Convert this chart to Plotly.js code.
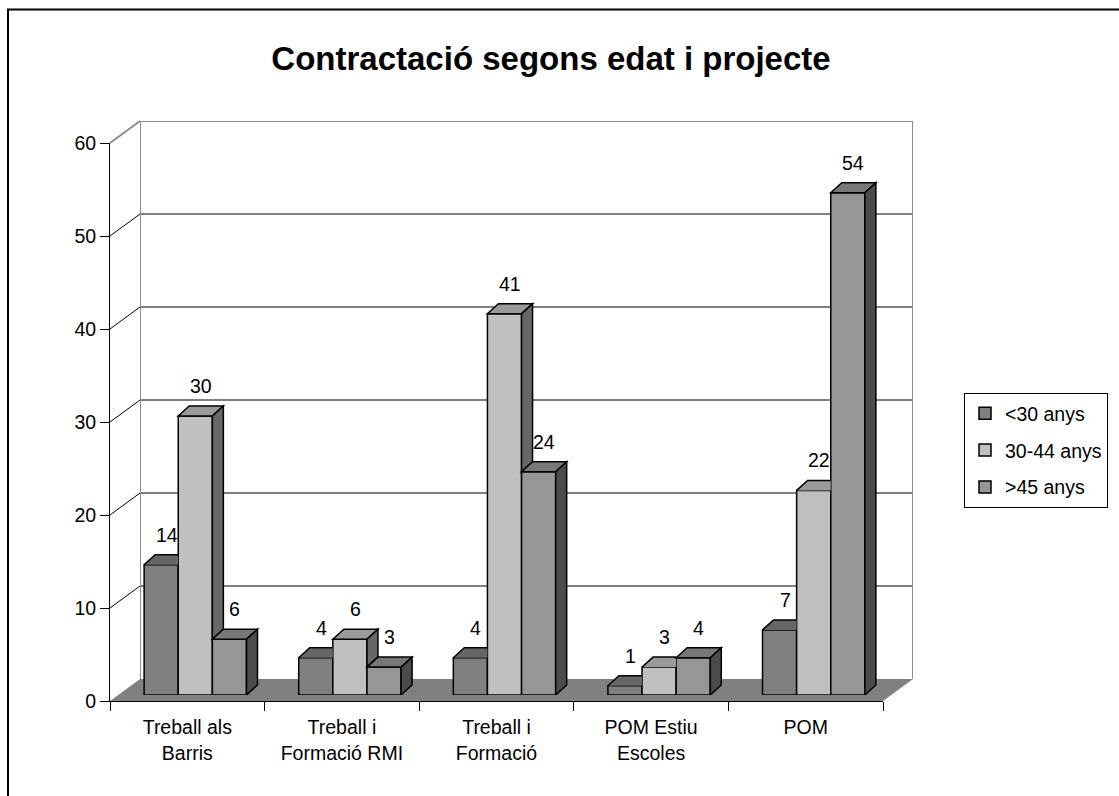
<!DOCTYPE html>
<html>
<head>
<meta charset="utf-8">
<script src="https://cdn.plot.ly/plotly-3.0.1.min.js"></script>
<style>html,body{margin:0;padding:0;background:#fff;}#chart{width:1119px;height:796px;}</style>
</head>
<body>
<div id="chart"></div>
<script>
// ---- data ----
const categories = ['Treball als Barris', 'Treball i Formació RMI', 'Treball i Formació', 'POM Estiu Escoles', 'POM'];
const tickLabels = ['Treball als<br>Barris', 'Treball i<br>Formació RMI', 'Treball i<br>Formació', 'POM Estiu<br>Escoles', 'POM'];
const seriesNames = ['<30 anys', '30-44 anys', '>45 anys'];
const under30 = [14, 4, 4, 1, 7];
const from30to44 = [30, 6, 41, 3, 22];
const over45 = [6, 3, 24, 4, 54];
const yTicks = [0, 10, 20, 30, 40, 50, 60];

// ---- styling ----
const seriesValues = [under30, from30to44, over45];
const frontColors = ['#808080', '#c0c0c0', '#969696'];
const topColors = ['#666666', '#9a9a9a', '#787878'];
const sideColors = ['#404040', '#676767', '#4b4b4b'];
const FONT = 'Liberation Sans, Arial, sans-serif';

const W = 1119, H = 796;
const fx = px => px / W;
const fy = py => 1 - py / H;

// geometry (pixels)
const front = {x0: 110, x1: 883, y0: 701, y1: 143};   // front axis plane
const wall = {x0: 140, x1: 913, y0: 679, y1: 121};    // back wall plane
const barPlane = {x0: 118, x1: 891, y0: 695, y1: 137}; // bar front faces
const YMAX = 60;
const nCat = categories.length;
const BW = 0.2207;              // bar width in category units
const depthPx = {dx: 11, dy: 10};
const pxPerX = (barPlane.x1 - barPlane.x0) / nCat;
const pxPerY = (barPlane.y0 - barPlane.y1) / YMAX;
const DX = depthPx.dx / pxPerX;
const DY = depthPx.dy / pxPerY;

const xIdx = categories.map((c, i) => i);

const traces = [];
// dummy trace to hold the front axes
traces.push({type: 'scatter', x: xIdx, y: xIdx.map(() => null), xaxis: 'x2', yaxis: 'y2',
  showlegend: false, hoverinfo: 'skip', mode: 'markers'});

seriesValues.forEach((vals, s) => {
  traces.push({
    type: 'bar', name: seriesNames[s], x: xIdx, y: vals,
    xaxis: 'x3', yaxis: 'y3',
    width: BW, offset: -1.5 * BW + s * BW,
    marker: {color: frontColors[s], line: {color: '#000', width: 1.5}},
    legendgroup: 'g' + s,
    hovertext: categories, hoverinfo: 'text+y'
  });
});

const shapes = [];
// outer frame
shapes.push({type: 'rect', xref: 'paper', yref: 'paper', x0: fx(8), x1: fx(1140), y0: fy(9.5), y1: fy(820),
  line: {color: '#000', width: 2}, layer: 'below'});
// floor
const fp = (x, y) => fx(x) + ',' + fy(y);
shapes.push({type: 'path', xref: 'paper', yref: 'paper',
  path: 'M' + fp(front.x0, front.y0) + ' L' + fp(front.x1, front.y0) + ' L' + fp(wall.x1, wall.y0) + ' L' + fp(wall.x0, wall.y0) + ' Z',
  fillcolor: '#808080', line: {width: 0}, layer: 'below'});
// back wall gridlines
yTicks.forEach(v => {
  if (v === 0) return;
  const top = v === YMAX;
  shapes.push({type: 'line', xref: 'x', yref: 'y', x0: 0, x1: 1, y0: v, y1: v,
    line: {color: top ? '#8c8c8c' : '#000', width: top ? 2 : 1}, layer: 'below'});
  // diagonal from front tick to wall
  const yf = front.y0 - v * (front.y0 - front.y1) / YMAX;
  const yb = wall.y0 - v * (wall.y0 - wall.y1) / YMAX;
  shapes.push({type: 'line', xref: 'paper', yref: 'paper', x0: fx(front.x0), x1: fx(wall.x0), y0: fy(yf), y1: fy(yb),
    line: {color: top ? '#8c8c8c' : '#000', width: top ? 2 : 1}, layer: 'below'});
});
// wall side edges
[0, 1].forEach(xv => {
  shapes.push({type: 'line', xref: 'x', yref: 'y', x0: xv, x1: xv, y0: 0, y1: YMAX,
    line: {color: '#8c8c8c', width: 2}, layer: 'below'});
});

// 3D faces of bars
const P = (x, y) => x.toFixed(5) + ',' + y.toFixed(4);
xIdx.forEach(c => {
  seriesValues.forEach((vals, s) => {
    const v = vals[c];
    const L = c - 1.5 * BW + s * BW;
    const R = L + BW;
    const next = s < seriesValues.length - 1 ? seriesValues[s + 1][c] : null;
    // top face
    let topPath;
    if (next !== null && next > v) {
      topPath = 'M' + P(L, v) + ' L' + P(R, v) + ' L' + P(R, v + DY) + ' L' + P(L + DX, v + DY) + ' Z';
      shapes.push({type: 'path', xref: 'x3', yref: 'y3', path: topPath, fillcolor: topColors[s],
        line: {width: 0}, layer: 'above'});
      shapes.push({type: 'path', xref: 'x3', yref: 'y3',
        path: 'M' + P(L, v) + ' L' + P(L + DX, v + DY) + ' L' + P(R, v + DY),
        line: {color: '#000', width: 1.5}, layer: 'above'});
    } else {
      topPath = 'M' + P(L, v) + ' L' + P(R, v) + ' L' + P(R + DX, v + DY) + ' L' + P(L + DX, v + DY) + ' Z';
      shapes.push({type: 'path', xref: 'x3', yref: 'y3', path: topPath, fillcolor: topColors[s],
        line: {color: '#000', width: 1.5}, layer: 'above'});
    }
    // side face
    if (next === null) {
      shapes.push({type: 'path', xref: 'x3', yref: 'y3',
        path: 'M' + P(R, 0) + ' L' + P(R + DX, DY) + ' L' + P(R + DX, v + DY) + ' L' + P(R, v) + ' Z',
        fillcolor: sideColors[s], line: {color: '#000', width: 1.5}, layer: 'above'});
    } else if (v > next) {
      shapes.push({type: 'path', xref: 'x3', yref: 'y3',
        path: 'M' + P(R, next) + ' L' + P(R + DX, next + DY) + ' L' + P(R + DX, v + DY) + ' L' + P(R, v) + ' Z',
        fillcolor: sideColors[s], line: {color: '#000', width: 1.5}, layer: 'above'});
    }
  });
});

// value labels
const annotations = [];
xIdx.forEach(c => {
  seriesValues.forEach((vals, s) => {
    const v = vals[c];
    const L = c - 1.5 * BW + s * BW;
    annotations.push({xref: 'x3', yref: 'y3', x: L + BW / 2 + DX / 2, y: v + DY, text: String(v),
      showarrow: false, yanchor: 'bottom', yshift: 7, font: {family: FONT, size: 19.5, color: '#000'}});
  });
});

const layout = {
  width: W, height: H, autosize: false,
  margin: {l: 0, r: 0, t: 0, b: 0, pad: 0},
  paper_bgcolor: '#fff', plot_bgcolor: 'rgba(0,0,0,0)',
  font: {family: FONT, size: 19.5, color: '#000'},
  title: {text: 'Contractació segons edat i projecte', font: {family: FONT, size: 33, weight: 'bold', color: '#000'},
    x: fx(551), y: fy(58), xanchor: 'center', yanchor: 'middle', xref: 'paper', yref: 'paper'},
  showlegend: true,
  legend: {x: fx(964), y: fy(393), xanchor: 'left', yanchor: 'top', bgcolor: '#fff', bordercolor: '#000', borderwidth: 1,
    font: {family: FONT, size: 19.5, color: '#000'}, traceorder: 'grouped', tracegroupgap: 8.5},
  barmode: 'overlay',
  // back wall
  xaxis: {domain: [fx(wall.x0), fx(wall.x1)], range: [0, 1], visible: false, anchor: 'y', fixedrange: true},
  yaxis: {domain: [fy(wall.y0), fy(wall.y1)], range: [0, YMAX], visible: false, anchor: 'x', fixedrange: true},
  // front axes
  xaxis2: {domain: [fx(front.x0), fx(front.x1)], range: [-0.5, nCat - 0.5], anchor: 'y2',
    tickmode: 'array', tickvals: xIdx, ticktext: tickLabels, ticks: '', showgrid: false, zeroline: false,
    showline: true, linecolor: '#000', linewidth: 1, ticklabelstandoff: 9,
    minor: {tickmode: 'array', tickvals: [-0.5, 0.5, 1.5, 2.5, 3.5, 4.5], ticks: 'outside', ticklen: 9, tickcolor: '#000', tickwidth: 1, showgrid: false},
    tickfont: {family: FONT, size: 19.5, color: '#000'}, fixedrange: true},
  yaxis2: {domain: [fy(front.y0), fy(front.y1)], range: [0, YMAX], anchor: 'x2',
    tickmode: 'array', tickvals: yTicks, ticks: 'outside', ticklen: 9, tickcolor: '#000', tickwidth: 1,
    showline: true, linecolor: '#000', linewidth: 1, showgrid: false, zeroline: false,
    tickfont: {family: FONT, size: 19.5, color: '#000'}, fixedrange: true},
  // bar plane
  xaxis3: {domain: [fx(barPlane.x0), fx(barPlane.x1)], range: [-0.5, nCat - 0.5], anchor: 'y3', visible: false, fixedrange: true},
  yaxis3: {domain: [fy(barPlane.y0), fy(barPlane.y1)], range: [0, YMAX], anchor: 'x3', visible: false, fixedrange: true},
  shapes: shapes,
  annotations: annotations
};

Plotly.newPlot('chart', traces, layout, {displayModeBar: false, staticPlot: true});
</script>
</body>
</html>
